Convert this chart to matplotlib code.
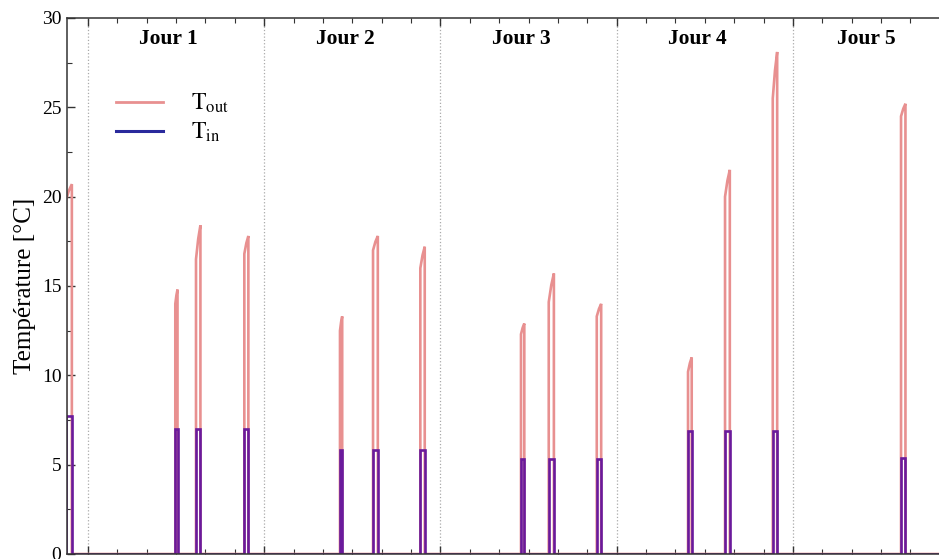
import numpy as np
import matplotlib
matplotlib.use("Agg")
import matplotlib.pyplot as plt
from matplotlib.lines import Line2D
from matplotlib.ticker import MultipleLocator

plt.rcParams['font.family'] = ['Liberation Serif', 'DejaVu Serif']
plt.rcParams['mathtext.fontset'] = 'stix'

# événements de chauffe (heures depuis le début du jour 1)
event_start = [-3.0, 11.89, 14.71, 21.29, 34.32, 38.82, 45.26,
               58.97, 62.75, 69.29, 81.72, 86.76, 93.26, 110.73]
event_width = [0.8, 0.3, 0.6, 0.55, 0.3, 0.65, 0.6,
               0.45, 0.7, 0.6, 0.5, 0.65, 0.6, 0.6]
tout_start = [19.8, 14.0, 16.5, 16.8, 12.5, 17.0, 16.0,
              12.3, 14.1, 13.3, 10.2, 20.0, 25.5, 24.5]
tout_peak = [20.7, 14.8, 18.4, 17.8, 13.3, 17.8, 17.2,
             12.9, 15.7, 14.0, 11.0, 21.5, 28.1, 25.2]
tin_level = [7.7, 7.0, 7.0, 7.0, 5.8, 5.8, 5.8,
             5.3, 5.3, 5.3, 6.9, 6.9, 6.9, 5.4]

day_labels = ['Jour 1', 'Jour 2', 'Jour 3', 'Jour 4', 'Jour 5']
day_label_x = [11.0, 35.0, 59.0, 83.0, 106.0]

C_OUT = '#e89090'
C_IN = '#6a1a9c'
C_IN_LEG = '#2a2a9c'

# construction des séries (0 entre les événements)
t_out, v_out, t_in, v_in = [-5.0], [0.0], [-5.0], [0.0]
for s, w, a, p, ti in zip(event_start, event_width, tout_start, tout_peak, tin_level):
    e = s + w
    t_out += [s, s, s + 0.5 * w, e, e]
    v_out += [0.0, a, a + 0.6 * (p - a), p, 0.0]
    t_in += [s, s, e, e]
    v_in += [0.0, ti, ti, 0.0]
t_out.append(130.0); v_out.append(0.0)
t_in.append(130.0); v_in.append(0.0)

fig = plt.figure(figsize=(9.39, 5.59), dpi=100)
ax = fig.add_axes([67 / 939, 5 / 559, 872 / 939, 536 / 559])

ax.plot(t_out, v_out, color=C_OUT, lw=1.9, solid_joinstyle='miter')
ax.plot(t_in, v_in, color=C_IN, lw=1.9, solid_joinstyle='miter')

ax.set_xlim(-2.86, 115.9)
ax.set_ylim(0, 30)
ax.xaxis.set_major_locator(MultipleLocator(24))
ax.xaxis.set_minor_locator(MultipleLocator(4))
ax.yaxis.set_major_locator(MultipleLocator(5))
ax.yaxis.set_minor_locator(MultipleLocator(2.5))
ax.tick_params(axis='both', which='both', direction='in', top=True, right=False,
               color='#333333')
ax.tick_params(which='major', length=6, width=1.0)
ax.tick_params(which='minor', length=3.5, width=0.8)
ax.tick_params(axis='x', labelbottom=False)
ax.tick_params(axis='y', labelsize=14, pad=4)
ax.grid(axis='x', which='major', linestyle=':', color='#aaaaaa', lw=0.9)
ax.spines['right'].set_visible(False)
for sp in ['left', 'top', 'bottom']:
    ax.spines[sp].set_color('#333333')
    ax.spines[sp].set_linewidth(1.1)

ax.set_ylabel('Température [°C]', fontsize=18, labelpad=4)

for lab, x in zip(day_labels, day_label_x):
    ax.text(x, 28.85, lab, ha='center', va='center', fontsize=15.5, fontweight='bold')

handles = [Line2D([], [], color=C_OUT, lw=2.0), Line2D([], [], color=C_IN_LEG, lw=2.2)]
ax.legend(handles, [r'$\mathrm{T_{out}}$', r'$\mathrm{T_{in}}$'], loc='upper left',
          bbox_to_anchor=(0.0316, 0.9014), frameon=False, fontsize=17,
          handlelength=2.0, handletextpad=1.2, labelspacing=0.245)

fig.savefig('out.png', dpi=100)
